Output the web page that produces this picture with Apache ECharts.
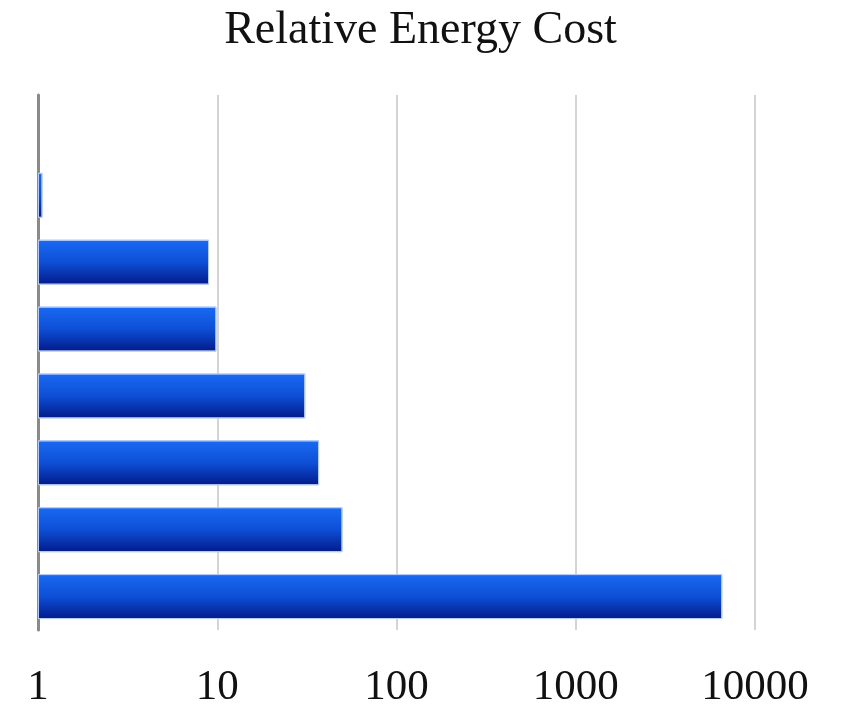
<!DOCTYPE html>
<html>
<head>
<meta charset="utf-8">
<script src="https://cdn.jsdelivr.net/npm/echarts@6/dist/echarts.min.js"></script>
<style>
  html, body { margin: 0; padding: 0; background: #fff; }
  #chart { width: 841px; height: 704px; }
</style>
</head>
<body>
<div id="chart"></div>
<script>
  // bottom to top; the top slot is left empty
  var categories = ['c1', 'c2', 'c3', 'c4', 'c5', 'c6', 'c7', 'c8'];
  var costs = [6570, 50, 37, 31, 9.9, 9.0, 1.06, null];
  var tickLabels = ['1', '10', '100', '1000', '10000'];

  var myChart = echarts.init(document.getElementById('chart'));
  var option = {
    backgroundColor: '#fff',
    title: {
      text: 'Relative Energy Cost',
      left: 'center',
      top: 3,
      textStyle: {
        fontFamily: 'Liberation Serif',
        fontWeight: 'normal',
        fontSize: 46,
        color: '#111'
      }
    },
    grid: {
      left: 38,
      right: 86,
      top: 95,
      bottom: 74,
      outerBoundsMode: 'none'
    },
    xAxis: {
      type: 'log',
      logBase: 10,
      min: 1,
      max: 10000,
      axisLine: { show: false },
      axisTick: { show: false },
      splitLine: { lineStyle: { color: '#d4d4d4', width: 2 } },
      axisLabel: {
        margin: 36,
        fontFamily: 'Liberation Serif',
        fontSize: 43,
        color: '#111',
        formatter: function (v) {
          var i = Math.round(Math.log10(v));
          return tickLabels[i] !== undefined ? tickLabels[i] : '';
        }
      }
    },
    yAxis: {
      type: 'category',
      data: categories,
      axisLine: { show: true, lineStyle: { color: '#8a8a8a', width: 3 } },
      axisTick: { show: false },
      axisLabel: { show: false }
    },
    series: [{
      type: 'bar',
      data: costs,
      barWidth: 45,
      itemStyle: {
        borderColor: '#b5cbf7',
        borderWidth: 1,
        color: new echarts.graphic.LinearGradient(0, 0, 0, 1, [
          { offset: 0, color: '#1a6af2' },
          { offset: 0.5, color: '#0d4fd6' },
          { offset: 1, color: '#031a8a' }
        ])
      }
    }]
  };
  myChart.setOption(option);
</script>
</body>
</html>
